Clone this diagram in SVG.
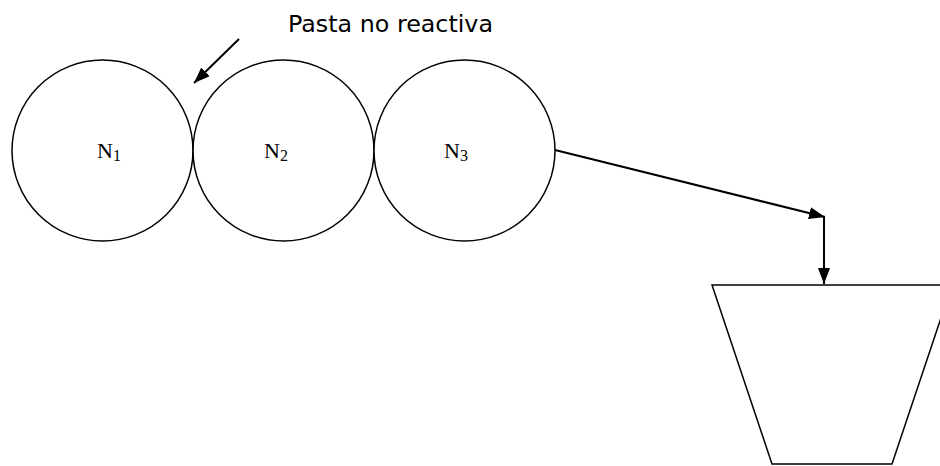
<svg xmlns="http://www.w3.org/2000/svg" width="940" height="466" viewBox="0 0 940 466">
<style>
.shape{fill:#fff;stroke:#000;stroke-width:1.5}
.conn{fill:none;stroke:#000;stroke-width:2}
.lbl{font-family:"Liberation Serif",serif;font-size:22px;fill:#000}
.sub{font-size:16px}
.note{font-family:"DejaVu Sans","Liberation Sans",sans-serif;font-size:23.5px;fill:#000}
</style>
<defs>
<marker id="ah" viewBox="0 0 16 12" refX="16" refY="6" markerWidth="16" markerHeight="12" markerUnits="userSpaceOnUse" orient="auto">
<path d="M0,0 L16,6 L0,12 Z" fill="#000"/>
</marker>
</defs>
<rect width="940" height="466" fill="#fff"/>
<g id="n1"><ellipse class="shape" cx="102.5" cy="150.5" rx="90.5" ry="90.5"/><text class="lbl" x="97" y="158">N<tspan class="sub" dy="3">1</tspan></text></g>
<g id="n2"><ellipse class="shape" cx="283.5" cy="150.5" rx="90.5" ry="90.5"/><text class="lbl" x="264" y="158">N<tspan class="sub" dy="3">2</tspan></text></g>
<g id="n3"><ellipse class="shape" cx="464.5" cy="150.5" rx="90.5" ry="90.5"/><text class="lbl" x="444" y="158">N<tspan class="sub" dy="3">3</tspan></text></g>
<g id="hopper"><polygon class="shape" points="712,285 952,285 892,464 772,464"/></g>
<g id="note"><text class="note" x="288" y="32" textLength="205" lengthAdjust="spacingAndGlyphs">Pasta no reactiva</text></g>
<g id="connectors">
<line class="conn" x1="239" y1="39" x2="194" y2="83" marker-end="url(#ah)"/>
<line class="conn" x1="555" y1="150" x2="825" y2="217" marker-end="url(#ah)"/>
<line class="conn" x1="824" y1="216" x2="824" y2="284" marker-end="url(#ah)"/>
</g>
</svg>
